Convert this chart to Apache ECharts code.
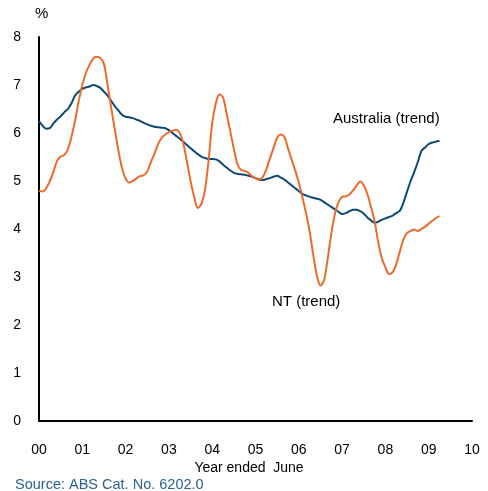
<!DOCTYPE html>
<html>
<head>
<meta charset="utf-8">
<script src="https://cdn.jsdelivr.net/npm/echarts@6/dist/echarts.min.js"></script>
<style>html,body{margin:0;padding:0;background:#fff}#c{width:488px;height:491px}</style>
</head>
<body>
<div id="c"></div>
<script>
// Monthly trend unemployment rate (%), starting at the "00" tick, one value per month
const australia = [6.25,6.15,6.09,6.10,6.20,6.28,6.35,6.43,6.50,6.62,6.78,6.86,
  6.92,6.95,6.97,7.00,6.98,6.94,6.86,6.78,6.67,6.56,6.47,6.38,
  6.34,6.33,6.31,6.28,6.25,6.21,6.18,6.15,6.13,6.12,6.11,6.10,
  6.06,6.00,5.94,5.88,5.82,5.75,5.68,5.62,5.56,5.51,5.48,5.46,
  5.46,5.45,5.41,5.34,5.28,5.22,5.17,5.15,5.14,5.13,5.11,5.09,
  5.06,5.03,5.02,5.04,5.06,5.09,5.11,5.07,5.03,4.97,4.91,4.85,
  4.79,4.73,4.70,4.67,4.65,4.63,4.61,4.56,4.51,4.46,4.41,4.36,
  4.31,4.33,4.37,4.40,4.40,4.37,4.32,4.24,4.18,4.13,4.15,4.19,
  4.22,4.25,4.28,4.33,4.38,4.55,4.78,5.00,5.19,5.40,5.63,5.70,
  5.77,5.80,5.82,5.84];
const nt = [4.80,4.78,4.85,5.00,5.19,5.42,5.51,5.54,5.66,5.92,6.26,6.66,
  7.00,7.25,7.42,7.55,7.59,7.56,7.44,7.00,6.53,6.08,5.64,5.27,
  5.05,4.97,5.00,5.05,5.10,5.12,5.20,5.39,5.57,5.77,5.90,5.97,
  6.02,6.05,6.06,6.00,5.78,5.40,5.00,4.67,4.44,4.52,4.81,5.43,
  6.20,6.62,6.80,6.74,6.40,6.04,5.67,5.35,5.23,5.21,5.17,5.10,
  5.06,5.02,5.08,5.24,5.47,5.69,5.90,5.97,5.92,5.68,5.45,5.22,
  4.97,4.66,4.33,3.95,3.46,3.03,2.82,2.93,3.38,3.90,4.31,4.56,
  4.67,4.68,4.72,4.80,4.90,4.99,4.91,4.73,4.46,4.16,3.73,3.39,
  3.20,3.06,3.10,3.27,3.53,3.78,3.92,3.96,3.99,3.96,4.00,4.05,
  4.11,4.17,4.23,4.27];
const xTickLabels = ['00','01','02','03','04','05','06','07','08','09','10'];
const yTicks = [0,1,2,3,4,5,6,7,8];
const seriesNames = ['Australia (trend)','NT (trend)'];

const toPts = arr => arr.map((v, i) => [i / 12, v]);
const FONT = 'Liberation Sans, Arial, sans-serif';

const chart = echarts.init(document.getElementById('c'), null, {renderer: 'canvas'});
chart.setOption({
  animation: false,
  backgroundColor: '#ffffff',
  grid: {left: 39, right: 16, top: 37, bottom: 70, containLabel: false},
  xAxis: {
    type: 'value', min: 0, max: 10, interval: 1,
    axisLine: {show: true, lineStyle: {color: '#000', width: 2}},
    axisTick: {show: false},
    splitLine: {show: false},
    axisLabel: {margin: 22, color: '#000', fontSize: 14, fontFamily: FONT,
      formatter: v => xTickLabels[Math.round(v)]}
  },
  yAxis: {
    type: 'value', min: yTicks[0], max: yTicks[yTicks.length - 1], interval: 1,
    axisLine: {show: true, lineStyle: {color: '#000', width: 2}},
    axisTick: {show: false},
    splitLine: {show: false},
    axisLabel: {margin: 18, color: '#000', fontSize: 14, fontFamily: FONT}
  },
  series: [
    {name: seriesNames[0], type: 'line', data: toPts(australia), showSymbol: false,
      smooth: 0.3, lineStyle: {color: '#0c4a74', width: 2}},
    {name: seriesNames[1], type: 'line', data: toPts(nt), showSymbol: false,
      smooth: 0.3, lineStyle: {color: '#ec6a2c', width: 2}}
  ],
  graphic: [
    {type: 'text', left: 35, top: 6, style: {text: '%', fontSize: 15, fill: '#000', fontFamily: FONT}},
    {type: 'text', left: 333, top: 111, style: {text: seriesNames[0], fontSize: 15, fill: '#000', fontFamily: FONT}},
    {type: 'text', left: 272, top: 294, style: {text: seriesNames[1], fontSize: 15, fill: '#000', fontFamily: FONT}},
    {type: 'text', x: 249, y: 461, style: {text: 'Year ended  June', fontSize: 14, fill: '#000', fontFamily: FONT, align: 'center'}},
    {type: 'text', left: 15, top: 477, style: {text: 'Source: ABS Cat. No. 6202.0', fontSize: 14.5, fill: '#2b6196', fontFamily: FONT}}
  ]
});
</script>
</body>
</html>
